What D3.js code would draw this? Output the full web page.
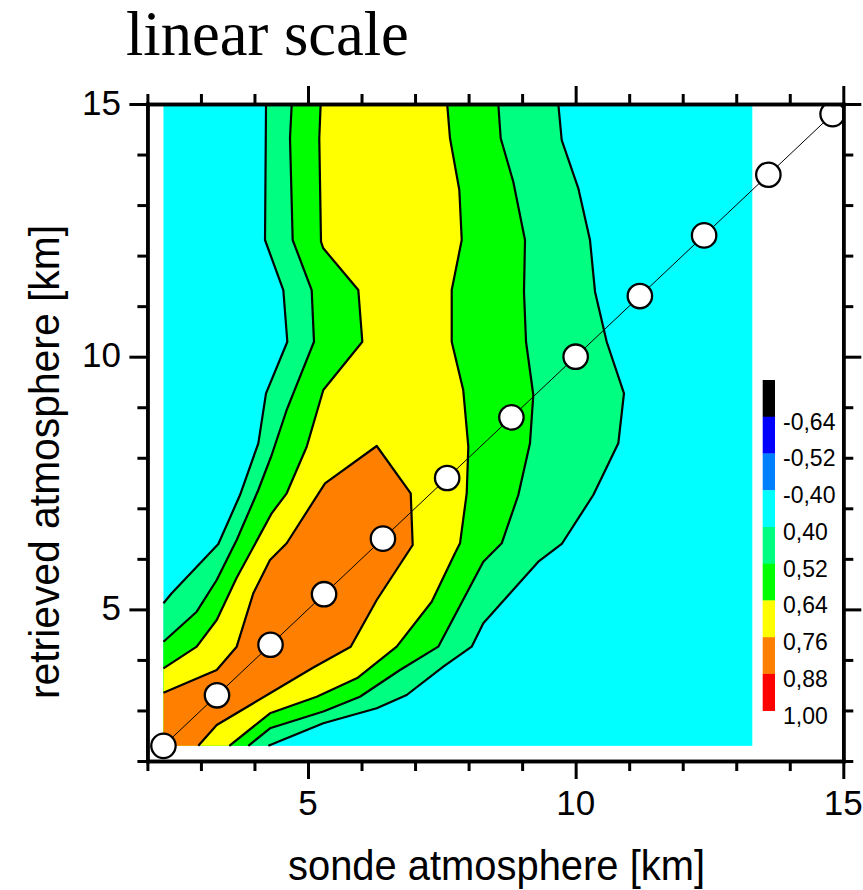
<!DOCTYPE html>
<html>
<head>
<meta charset="utf-8">
<script src="https://cdn.jsdelivr.net/npm/d3@7"></script>
<style>
  html, body { margin: 0; padding: 0; background: #ffffff; }
  svg { display: block; }
</style>
</head>
<body>
<svg id="chart" width="863" height="890"></svg>
<script>
// ---- axis ranges and ticks ----
const xDomain = [2, 15];
const yDomain = [2, 15];
const majorTicks = [5, 10, 15];
const minorTicks = [2, 3, 4, 6, 7, 8, 9, 11, 12, 13, 14];

// extent of the gridded correlation field
const fieldX = [2.3, 13.3];
const fieldY = [2.3, 15];

// ---- legend (contour levels) ----
const levelLabels = ["-0,64", "-0,52", "-0,40", "0,40", "0,52", "0,64", "0,76", "0,88", "1,00"];
const levelColors = ["#000000", "#0000ff", "#0080ff", "#00ffff", "#00ff80", "#00ff00", "#ffff00", "#ff8000", "#ff0000"];

// ---- contour lines (sonde km, retrieved km) ----
// each band: left branch runs from the left/bottom edge to the top, right branch from the bottom to the top
const c040Left = [[2.3,5.12],[2.454,5.318],[3.325,6.294],[3.73,7.263],[4.072,8.286],[4.216,9.275],[4.614,10.296],[4.539,11.319],[4.197,12.309],[4.216,15]];
const c040Right = [[4.259,2.3],[5.286,2.746],[6.284,3.043],[6.844,3.306],[7.528,3.866],[8.058,4.262],[8.275,4.725],[9.303,5.943],[9.74,6.294],[10.33,7.263],[10.797,8.286],[10.903,9.275],[10.58,10.296],[10.362,11.286],[10.268,12.309],[10.05,13.332],[9.74,14.287],[9.676,15]];

const c052Left = [[2.3,4.36],[2.921,4.954],[3.295,5.581],[3.668,6.373],[4.072,7.362],[4.322,8.055],[4.602,8.945],[4.72,9.26],[5.112,10.296],[5.069,11.319],[4.714,12.309],[4.664,14.321],[4.696,15]];
const c052Right = [[3.885,2.3],[4.29,2.647],[5.286,2.979],[5.97,3.272],[6.719,3.8],[7.434,4.262],[8.275,5.943],[8.619,6.307],[8.929,7.263],[9.147,8.286],[9.209,9.242],[9.073,10.296],[9.035,11.286],[9.054,12.309],[8.835,13.462],[8.6,14.321],[8.555,15]];

const c064Left = [[2.3,3.834],[2.921,4.262],[3.295,4.79],[3.668,5.627],[4.322,6.901],[4.602,7.297],[4.976,8.219],[5.286,9.341],[6.015,10.296],[5.94,11.319],[5.286,12.145],[5.243,12.275],[5.211,14.321],[5.237,15]];
const c064Right = [[3.53,2.3],[4.29,2.944],[5.163,3.272],[5.92,3.64],[6.657,4.262],[7.311,5.152],[7.746,6.11],[7.84,6.307],[7.965,7.297],[7.995,8.219],[7.9,9.341],[7.685,10.296],[7.685,11.319],[7.872,12.308],[7.827,13.297],[7.653,14.321],[7.6,15]];

// the 0,76 contour closes against the lower-left corner
const c076 = [[2.3,3.351],[3.295,3.8],[3.668,4.262],[3.978,5.318],[4.29,5.977],[4.602,6.308],[5.318,7.495],[6.284,8.233],[6.919,7.297],[6.956,6.274],[6.284,5.186],[5.798,4.262],[5.1,3.85],[4.29,3.34],[3.295,2.712],[2.951,2.3]];

// ---- retrieval levels on the 1:1 line ----
const levelHeights = [2.3, 3.3, 4.3, 5.3, 6.4, 7.6, 8.8, 10.0, 11.2, 12.4, 13.6, 14.8];

// ---- layout ----
const plot = { left: 147.4, right: 843.3, top: 104, bottom: 761 };

const svg = d3.select("#chart");
const x = d3.scaleLinear().domain(xDomain).range([plot.left, plot.right]);
const y = d3.scaleLinear().domain(yDomain).range([plot.bottom, plot.top]);

svg.append("defs").append("clipPath").attr("id", "plot-clip")
  .append("rect")
  .attr("x", plot.left).attr("y", plot.top)
  .attr("width", plot.right - plot.left).attr("height", plot.bottom - plot.top);

const g = svg.append("g").attr("clip-path", "url(#plot-clip)");
const line = d3.line().x(d => x(d[0])).y(d => y(d[1]));
const corner = [fieldX[0], fieldY[0]];

// background band (-0,40 .. 0,40)
g.append("rect")
  .attr("x", x(fieldX[0])).attr("y", y(fieldY[1]))
  .attr("width", x(fieldX[1]) - x(fieldX[0]))
  .attr("height", y(fieldY[0]) - y(fieldY[1]))
  .attr("fill", "#00ffff");

// filled bands, nested from the lowest level upwards
const bands = [
  { left: c040Left, right: c040Right, color: "#00ff80" },
  { left: c052Left, right: c052Right, color: "#00ff00" },
  { left: c064Left, right: c064Right, color: "#ffff00" }
];
bands.forEach(b => {
  const ring = b.left.concat(b.right.slice().reverse(), [corner]);
  g.append("path").attr("d", line(ring) + "Z").attr("fill", b.color);
});
g.append("path").attr("d", line(c076.concat([corner])) + "Z").attr("fill", "#ff8000");

// contour lines
[c040Left, c040Right, c052Left, c052Right, c064Left, c064Right, c076].forEach(c => {
  g.append("path").attr("d", line(c))
    .attr("fill", "none").attr("stroke", "#000").attr("stroke-width", 2.2)
    .attr("stroke-linejoin", "round");
});

// 1:1 line with retrieval levels
const diag = levelHeights.map(v => [v, v]);
g.append("path").attr("d", line(diag))
  .attr("fill", "none").attr("stroke", "#000").attr("stroke-width", 1);
g.selectAll("circle.lvl").data(levelHeights).join("circle")
  .attr("class", "lvl")
  .attr("cx", d => x(d)).attr("cy", d => y(d)).attr("r", 12.2)
  .attr("fill", "#fff").attr("stroke", "#000").attr("stroke-width", 2.3);

// legend colour bar
const legX = 762.7, legTop = 380, legH = 36.74, legW = 12.3;
const leg = svg.append("g");
leg.selectAll("rect").data(levelColors).join("rect")
  .attr("x", legX).attr("y", (d, i) => legTop + i * legH)
  .attr("width", legW).attr("height", legH + 0.3)
  .attr("fill", d => d);
leg.selectAll("text").data(levelLabels).join("text")
  .attr("x", 783).attr("y", (d, i) => legTop + (i + 1) * legH + 13)
  .attr("font-family", "'Liberation Sans', Arial, sans-serif")
  .attr("font-size", 23).attr("fill", "#000")
  .text(d => d);

// ---- axes: minor and major ticks on all four sides ----
function styleAxis(sel, tickW) {
  sel.selectAll("text").remove();
  sel.select(".domain").attr("stroke", "#000").attr("stroke-width", 3.5).attr("stroke-linecap", "square");
  sel.selectAll(".tick line").attr("stroke", "#000").attr("stroke-width", tickW);
}
const axes = [
  { gen: d3.axisBottom, t: `translate(0,${plot.bottom})`, s: x },
  { gen: d3.axisTop, t: `translate(0,${plot.top})`, s: x },
  { gen: d3.axisLeft, t: `translate(${plot.left},0)`, s: y },
  { gen: d3.axisRight, t: `translate(${plot.right},0)`, s: y }
];
axes.forEach(a => {
  svg.append("g").attr("transform", a.t)
    .call(a.gen(a.s).tickValues(minorTicks).tickSize(10).tickSizeOuter(0).tickFormat(""))
    .call(s => styleAxis(s, 3));
  svg.append("g").attr("transform", a.t)
    .call(a.gen(a.s).tickValues(majorTicks).tickSize(18).tickSizeOuter(0).tickFormat(""))
    .call(s => styleAxis(s, 3));
});

// tick labels
const sans = "'Liberation Sans', Arial, sans-serif";
svg.append("g").selectAll("text").data(majorTicks).join("text")
  .attr("x", d => x(d)).attr("y", 815)
  .attr("text-anchor", "middle").attr("font-family", sans).attr("font-size", 35)
  .text(d => d);
svg.append("g").selectAll("text").data(majorTicks).join("text")
  .attr("x", 121).attr("y", d => y(d) + 10.5)
  .attr("text-anchor", "end").attr("font-family", sans).attr("font-size", 35)
  .text(d => d);

// axis titles
svg.append("text")
  .attr("x", 288).attr("y", 880)
  .attr("font-family", sans).attr("font-size", 43)
  .attr("textLength", 417).attr("lengthAdjust", "spacingAndGlyphs")
  .text("sonde atmosphere [km]");
svg.append("text")
  .attr("transform", "translate(59,462) rotate(-90)")
  .attr("text-anchor", "middle")
  .attr("font-family", sans).attr("font-size", 43)
  .attr("textLength", 474).attr("lengthAdjust", "spacingAndGlyphs")
  .text("retrieved atmosphere [km]");

// title
svg.append("text")
  .attr("x", 126).attr("y", 55)
  .attr("font-family", "'Liberation Serif', 'Times New Roman', serif")
  .attr("font-size", 62.5)
  .text("linear scale");
</script>
</body>
</html>
